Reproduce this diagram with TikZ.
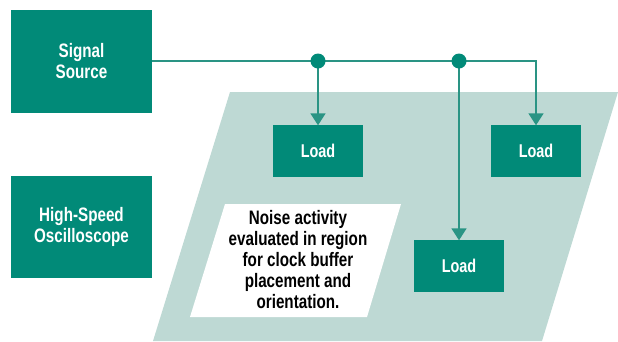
\documentclass[tikz,border=0pt]{standalone}
\usepackage{fontspec}
\setmainfont[FakeStretch=0.78]{Liberation Sans}
\usetikzlibrary{arrows.meta}
\definecolor{teal1}{HTML}{018A78}
\definecolor{teal2}{HTML}{BED9D4}
\definecolor{wirec}{HTML}{2A9484}
\tikzset{
  blockbox/.style={fill=teal1, text=white, font=\fontsize{19.5}{21}\selectfont\bfseries, align=center, inner sep=0pt},
  loadbox/.style={blockbox, minimum width=90pt, minimum height=52pt, font=\fontsize{18.5}{21}\selectfont\bfseries},
  wire/.style={wirec, line width=1.6pt},
  feed/.style={wire, -{Triangle[width=15pt,length=12pt]}, shorten >=-0.5pt}
}
\begin{document}
\begin{tikzpicture}[x=1pt,y=-1pt]
    \useasboundingbox (0,0) rectangle (618,341);
    % region under test
    \fill[teal2] (230,92) -- (618,92) -- (542,341) -- (153,341) -- cycle;
    \fill[white] (225,204) -- (401,204) -- (367,317) -- (190,317) -- cycle;
    \node[font=\fontsize{19.5}{21}\selectfont\bfseries, align=center] (note) at (298,260)
        {Noise activity\\evaluated in region\\for clock buffer\\placement and\\orientation.};
    % boxes
    \node[blockbox, minimum width=141pt, minimum height=103pt] (src) at (81.5,61.5) {Signal\\Source};
    \node[blockbox, minimum width=141pt, minimum height=102pt] (scope) at (81.5,227) {High-Speed\\Oscilloscope};
    \node[loadbox] (loadA) at (318,151) {Load};
    \node[loadbox] (loadB) at (536,151) {Load};
    \node[loadbox] (loadC) at (459,266) {Load};
    % clock line
    \coordinate (j1) at (318,61);
    \coordinate (j2) at (459,61);
    \draw[wire] (src.east |- j1) -- (j2);
    \draw[feed] (j2) -| (loadB.north);
    \draw[feed] (j1) -- (loadA.north);
    \draw[feed] (j2) -- (loadC.north);
    \fill[teal1] (j1) circle (7.5);
    \fill[teal1] (j2) circle (7.5);
\end{tikzpicture}
\end{document}
